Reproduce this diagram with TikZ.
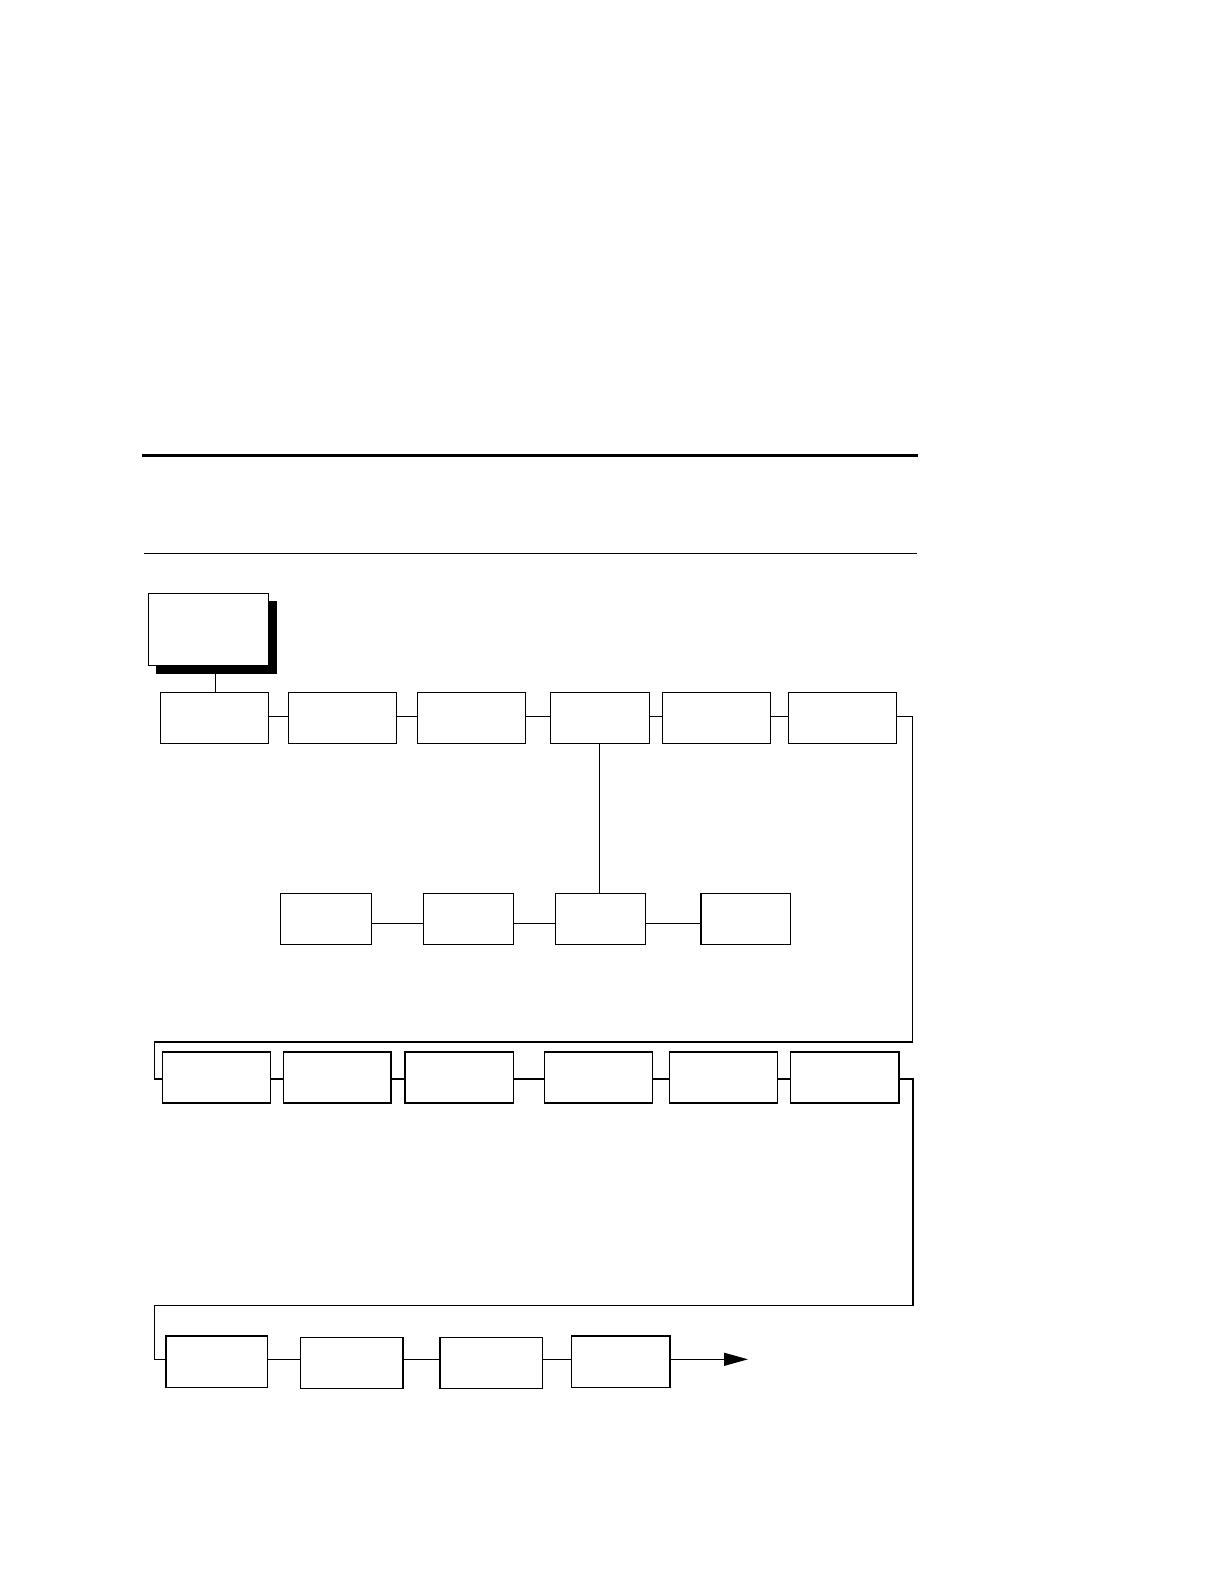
\documentclass[tikz,border=0pt]{standalone}
\usetikzlibrary{fit,arrows.meta}
\begin{document}
\begin{tikzpicture}[x=0.5pt,y=-0.5pt,
  box/.style={draw=black,fill=white,line width=0.6pt,inner sep=0pt,outer sep=0pt},
  shadowbox/.style={fill=black,draw=none,inner sep=0pt,outer sep=0pt},
  link/.style={draw=black,line width=0.55pt}]
\useasboundingbox (0,0) rectangle (1222,1584);
% header rules
\draw[line width=1.5pt] (142.4,455.5) -- (918,455.5);
\draw[line width=0.7pt] (144.4,553.5) -- (917,553.5);
% top box with shadow
\node[shadowbox, fit={(156,601) (276.7,673.7)}] (shadow) {};
\node[box, fit={(148.3,593.3) (268.5,665.5)}] (top) {};
% row 1
\node[box, fit={(160.3,692.3) (268.7,743.3)}] (r1a) {};
\node[box, fit={(288.3,692.3) (396.7,743.3)}] (r1b) {};
\node[box, fit={(417.3,692.3) (525.5,743.3)}] (r1c) {};
\node[box, fit={(550.3,692.3) (649.3,743.3)}] (r1d) {};
\node[box, fit={(662.3,692.3) (770.3,743.3)}] (r1e) {};
\node[box, fit={(788.3,692.3) (896.3,743.3)}] (r1f) {};
% sub row
\node[box, fit={(280.8,893.3) (371.7,944.4)}] (s1) {};
\node[box, fit={(423.2,893.3) (513.1,944.4)}] (s2) {};
\node[box, fit={(555.5,893.3) (645.4,944.4)}] (s3) {};
\node[box, fit={(701,893.3) (790.8,944.4)}] (s4) {};
% row 2
\node[box, fit={(162.6,1052) (270.7,1103)}] (r2a) {};
\node[box, fit={(283.8,1052) (390.9,1103)}] (r2b) {};
\node[box, fit={(405,1052) (513.1,1103)}] (r2c) {};
\node[box, fit={(544.4,1052) (652.5,1103)}] (r2d) {};
\node[box, fit={(669.6,1052) (777.7,1103)}] (r2e) {};
\node[box, fit={(790.8,1052) (898.9,1103)}] (r2f) {};
% row 3
\node[box, fit={(166,1336) (267.5,1387.5)}] (r3a) {};
\node[box, fit={(300.5,1337.5) (403,1388.5)}] (r3b) {};
\node[box, fit={(440,1337.5) (542.5,1388.5)}] (r3c) {};
\node[box, fit={(571.5,1336) (670,1387.5)}] (r3d) {};
% connectors
\coordinate (tsh) at (215.3,673.7);
\draw[link] (tsh) -- (r1a.north -| tsh);
\draw[link] ([yshift=0.75pt]r1a.east) -- ([yshift=0.75pt]r1b.west);
\draw[link] ([yshift=0.75pt]r1b.east) -- ([yshift=0.75pt]r1c.west);
\draw[link] ([yshift=0.75pt]r1c.east) -- ([yshift=0.75pt]r1d.west);
\draw[link] ([yshift=0.75pt]r1d.east) -- ([yshift=0.75pt]r1e.west);
\draw[link] ([yshift=0.75pt]r1e.east) -- ([yshift=0.75pt]r1f.west);
\coordinate (vx) at (599.3,800);
\draw[link] (r1d.south -| vx) -- (s3.north -| vx);
\draw[link] ([yshift=-2.1pt]s1.east) -- ([yshift=-2.1pt]s2.west);
\draw[link] ([yshift=-2.1pt]s2.east) -- ([yshift=-2.1pt]s3.west);
\draw[link] ([yshift=-2.1pt]s3.east) -- ([yshift=-2.1pt]s4.west);
\coordinate (t1) at (912.3,1042);
\coordinate (l1) at (154.5,1042);
\draw[link] ([yshift=0.75pt]r1f.east) -| (t1) -- (l1) |- ([yshift=-0.75pt]r2a.west);
\draw[link] ([yshift=-0.75pt]r2a.east) -- ([yshift=-0.75pt]r2b.west);
\draw[link] ([yshift=-0.75pt]r2b.east) -- ([yshift=-0.75pt]r2c.west);
\draw[link] ([yshift=-0.75pt]r2c.east) -- ([yshift=-0.75pt]r2d.west);
\draw[link] ([yshift=-0.75pt]r2d.east) -- ([yshift=-0.75pt]r2e.west);
\draw[link] ([yshift=-0.75pt]r2e.east) -- ([yshift=-0.75pt]r2f.west);
\coordinate (t2) at (913,1305.3);
\coordinate (l2) at (154.5,1305.3);
\coordinate (row3y) at (0,1359.3);
\draw[link] ([yshift=-0.75pt]r2f.east) -| (t2) -- (l2) |- (r3a.west |- row3y);
\draw[link] (r3a.east |- row3y) -- (r3b.west |- row3y);
\draw[link] (r3b.east |- row3y) -- (r3c.west |- row3y);
\draw[link] (r3c.east |- row3y) -- (r3d.west |- row3y);
\coordinate (endpt) at (748,1359.3);
\draw[link,-{Triangle[length=12pt,width=6.5pt]}] (r3d.east |- row3y) -- (endpt);
\end{tikzpicture}
\end{document}
